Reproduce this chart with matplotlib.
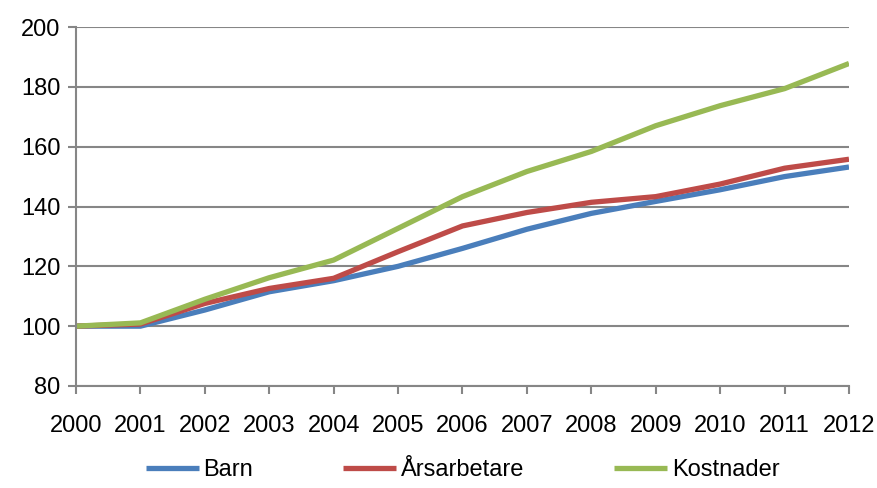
import matplotlib
matplotlib.use("Agg")
import matplotlib.pyplot as plt
from matplotlib import font_manager

years = list(range(2000, 2013))
barn = [100, 100, 105.4, 111.5, 115.2, 120.0, 126.0, 132.4, 137.7, 141.7, 145.6, 150.0, 153.2]
arsarbetare = [100, 100.7, 107.6, 112.6, 116.0, 124.9, 133.5, 138.0, 141.4, 143.3, 147.5, 152.8, 155.8]
kostnader = [100, 101.1, 109.0, 116.2, 122.1, 132.7, 143.3, 151.7, 158.4, 167.0, 173.7, 179.4, 187.8]

names = [f.name for f in font_manager.fontManager.ttflist]
if "Liberation Sans Narrow" in names:
    plt.rcParams["font.family"] = ["Liberation Sans Narrow", "DejaVu Sans"]
else:
    plt.rcParams["font.family"] = ["Liberation Sans", "DejaVu Sans"]

grid_col = "#868686"

fig = plt.figure(figsize=(8.77, 4.88), dpi=100)
ax = fig.add_axes([76 / 877, 1 - 386 / 488, (849 - 76) / 877, (386 - 27) / 488])

ax.plot(years, barn, color="#4A7EBB", lw=3.8, label="Barn", solid_capstyle="butt")
ax.plot(years, arsarbetare, color="#BE4B48", lw=3.8, label="Årsarbetare", solid_capstyle="butt")
ax.plot(years, kostnader, color="#98B954", lw=3.8, label="Kostnader", solid_capstyle="butt")

ax.set_xlim(2000, 2012)
ax.set_ylim(80, 200)
ax.set_xticks(years)
ax.set_yticks(range(80, 201, 20))
ax.yaxis.grid(True, color=grid_col, lw=1.5)
ax.set_axisbelow(True)
for s in ["top", "right"]:
    ax.spines[s].set_visible(False)
for s in ["left", "bottom"]:
    ax.spines[s].set_color(grid_col)
    ax.spines[s].set_linewidth(1.5)
ax.tick_params(axis="both", colors=grid_col, length=6, width=1.5, labelsize=17, labelcolor="black")
ax.tick_params(axis="x", pad=15)
ax.tick_params(axis="y", pad=5)

ax.legend(loc="center", bbox_to_anchor=(0.5, -0.235), ncol=3, frameon=False,
          fontsize=17, handlelength=2.25, handletextpad=0.2, columnspacing=3.8)

fig.savefig("out.png", dpi=100)
